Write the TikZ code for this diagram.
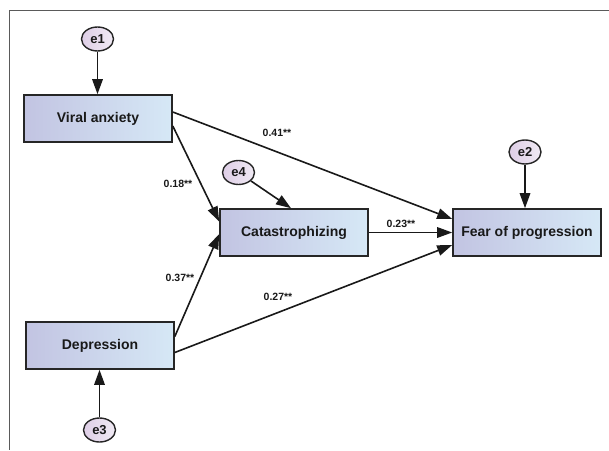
\documentclass[tikz,border=0pt]{standalone}
\usepackage{fontspec}
\setmainfont{Liberation Sans}
\usetikzlibrary{arrows.meta,shapes.geometric,calc}
\definecolor{boxL}{RGB}{194,196,226}
\definecolor{boxR}{RGB}{214,232,246}
\definecolor{ellL}{RGB}{222,206,230}
\definecolor{ellR}{RGB}{240,234,244}
\definecolor{txt}{RGB}{25,25,25}
\definecolor{framec}{RGB}{90,90,90}
\tikzset{
  varbox/.style={draw=black!85, line width=1.6pt, rectangle, minimum width=148pt, minimum height=47pt,
    left color=boxL, right color=boxR, text=txt, font=\fontsize{14}{16}\selectfont\bfseries, inner sep=0pt},
  errnode/.style={draw=black!85, line width=1.4pt, ellipse, minimum width=32pt, minimum height=24pt,
    left color=ellL, right color=ellR, text=txt, font=\fontsize{13}{15}\selectfont\bfseries, inner sep=0pt},
  path/.style={draw=black!90, line width=1.6pt, -{Triangle[length=15pt,width=10.5pt]}},
  coef/.style={text=txt, font=\fontsize{10.5}{12}\selectfont\bfseries, inner sep=0pt}
}
\begin{document}
\begin{tikzpicture}[x=1pt,y=-1pt]
\useasboundingbox (0,0) rectangle (609,450);
\draw[framec, line width=1.5pt] (609,10.5) -- (9.5,10.5) -- (9.5,450);

\node[varbox] (va) at (98,118.5) {Viral anxiety};
\node[varbox] (cat) at (294,232.5) {Catastrophizing};
\node[varbox] (fear) at (527,232.5) {Fear of progression};
\node[varbox] (dep) at (100,345.5) {Depression};

\node[errnode] (e1) at (97.5,39) {e1};
\node[errnode] (e2) at (525,152) {e2};
\node[errnode] (e3) at (99.5,430) {e3};
\node[errnode] (e4) at (238.5,172.5) {e4};

\draw[path] (e1) -- (e1 |- va.north);
\draw[path] (e2) -- (e2 |- fear.north);
\draw[path] (e3) -- (e3 |- dep.south);
\draw[path] (e4) -- ($(cat.north)+(-3,0)$);

\draw[path] ($(va.east)+(0,-6.5)$) -- ($(fear.west)+(0,-13.5)$);
\draw[path] ($(va.east)+(0,7.5)$) -- ($(cat.west)+(0,-11)$);
\draw[path] ($(dep.east)+(0,-9)$) -- ($(cat.west)+(0,1.5)$);
\draw[path] ($(dep.east)+(0,7)$) -- ($(fear.west)+(0,12.5)$);
\draw[path] (cat.east) -- (fear.west);

\node[coef] (l41) at (277,133) {0.41**};
\node[coef] (l18) at (178,184) {0.18**};
\node[coef] (l37) at (180,277.5) {0.37**};
\node[coef] (l23) at (401,223.5) {0.23**};
\node[coef] (l27) at (278,297) {0.27**};
\end{tikzpicture}
\end{document}
